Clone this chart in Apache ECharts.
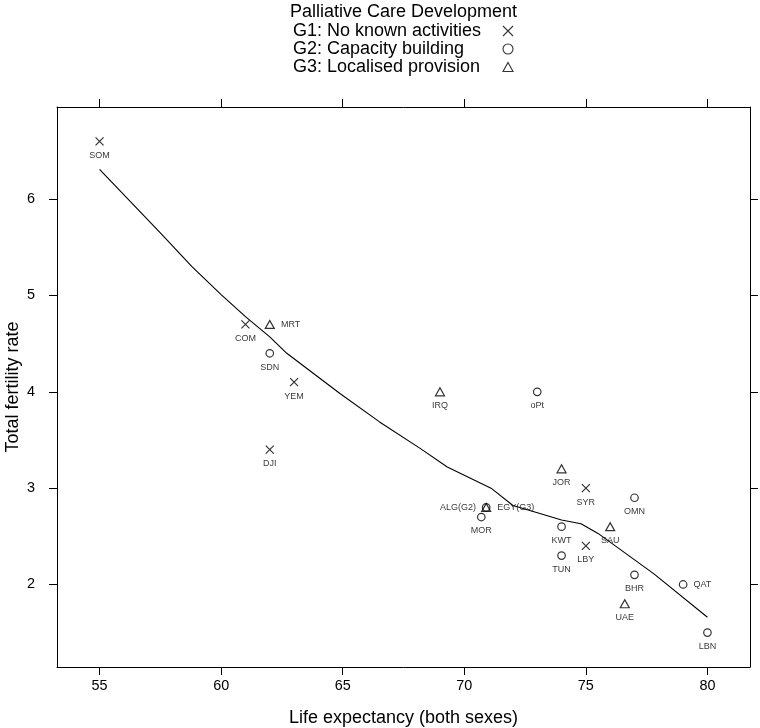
<!DOCTYPE html>
<html>
<head>
<meta charset="utf-8">
<script src="https://cdn.jsdelivr.net/npm/echarts@6/dist/echarts.min.js"></script>
<style>html,body{margin:0;padding:0;background:#fff}#c{width:760px;height:728px}</style>
</head>
<body>
<div id="c"></div>
<script>
// ---- data ----
const xTicks = [55, 60, 65, 70, 75, 80];
const yTicks = [2, 3, 4, 5, 6];

const groupNames = ['G1: No known activities', 'G2: Capacity building', 'G3: Localised provision'];

const g1Names = ['SOM', 'COM', 'YEM', 'DJI', 'SYR', 'LBY'];
const g1Life  = [55, 61, 63, 62, 75, 75];
const g1Tfr   = [6.6, 4.7, 4.1, 3.4, 3.0, 2.4];

const g2Names = ['SDN', 'oPt', 'OMN', 'ALG(G2)', 'MOR', 'KWT', 'TUN', 'BHR', 'QAT', 'LBN'];
const g2Life  = [62, 73, 77, 70.9, 70.7, 74, 74, 77, 79, 80];
const g2Tfr   = [4.4, 4.0, 2.9, 2.8, 2.7, 2.6, 2.3, 2.1, 2.0, 1.5];

const g3Names = ['MRT', 'IRQ', 'JOR', 'EGY(G3)', 'SAU', 'UAE'];
const g3Life  = [62, 69, 74, 70.9, 76, 76.6];
const g3Tfr   = [4.7, 4.0, 3.2, 2.8, 2.6, 1.8];

// smoothed (loess) fit
const fitLife = [55, 57.5, 58.8, 60, 61, 62, 62.7, 64.9, 66.5, 68.2, 69.3, 71.1, 72, 72.8, 74, 74.8, 75.5, 77.8, 80];
const fitTfr  = [6.31, 5.65, 5.30, 5.01, 4.78, 4.57, 4.40, 3.98, 3.69, 3.41, 3.22, 3.00, 2.82, 2.76, 2.67, 2.63, 2.53, 2.11, 1.66];

// ---- chart ----
const FONT = "'Liberation Sans', Arial, Helvetica, sans-serif";
const rightLabels = ['MRT', 'EGY(G3)', 'QAT'];
const leftLabels = ['ALG(G2)'];

const CROSS = 'path://M0,0L10,10M10,0L0,10';
const TRI = 'path://M5,0L10,9L0,9Z';
const CIRC = 'circle';

function build(names, life, tfr) {
  return names.map((n, i) => {
    let pos = 'bottom', dist = 3;
    if (rightLabels.indexOf(n) >= 0) { pos = 'right'; dist = 4; }
    if (leftLabels.indexOf(n) >= 0) { pos = 'left'; dist = 4; }
    return { name: n, value: [life[i], tfr[i]], label: { position: pos, distance: dist } };
  });
}

const markStyle = { color: 'none', borderColor: '#000', borderWidth: 1.2 };
const legendMarkStyle = { color: 'none', borderColor: '#000', borderWidth: 1.1 };
const labelStyle = { show: true, formatter: '{b}', fontFamily: FONT, fontSize: 9, color: '#000' };

function scatter(name, symbol, size, names, life, tfr) {
  return {
    type: 'scatter', name: name, symbol: symbol, symbolSize: size,
    data: build(names, life, tfr),
    itemStyle: markStyle,
    label: labelStyle,
    emphasis: { disabled: true },
    z: 3
  };
}

const axisLine = { show: true, lineStyle: { color: '#000', width: 1 } };
const tickStyle = { lineStyle: { color: '#000', width: 1 } };

const option = {
  animation: false,
  backgroundColor: '#fff',
  title: {
    text: 'Palliative Care Development', left: 290, top: 3, padding: 0,
    textStyle: { fontFamily: FONT, fontSize: 18, fontWeight: 'normal', color: '#000' }
  },
  legend: {
    orient: 'vertical', left: 293, top: 22, padding: 0, align: 'right', itemGap: 0,
    itemWidth: 10, itemHeight: 10, selectedMode: false,
    data: [
      { name: groupNames[0], icon: CROSS, itemStyle: legendMarkStyle },
      { name: groupNames[1], icon: CIRC, itemStyle: legendMarkStyle },
      { name: groupNames[2], icon: TRI, itemStyle: legendMarkStyle }
    ],
    formatter: n => '{a|' + n + '}',
    textStyle: {
      fontFamily: FONT, fontSize: 18, color: '#000', lineHeight: 16.2,
      rich: { a: { width: 205, align: 'left', fontFamily: FONT, fontSize: 18, color: '#000', lineHeight: 16.2 } }
    }
  },
  grid: { left: 57, right: 10, top: 107, bottom: 61, containLabel: false, outerBoundsMode: 'none' },
  xAxis: [
    {
      type: 'value', min: 53.25, max: 81.75, position: 'bottom',
      name: 'Life expectancy (both sexes)', nameLocation: 'middle', nameGap: 42, nameMoveOverlap: false,
      nameTextStyle: { fontFamily: FONT, fontSize: 18, color: '#000' },
      axisLine: axisLine, splitLine: { show: false },
      axisTick: Object.assign({ show: true, length: 8, customValues: xTicks }, tickStyle),
      axisLabel: { customValues: xTicks, margin: 12, fontFamily: FONT, fontSize: 14.4, color: '#000' }
    },
    {
      type: 'value', min: 53.25, max: 81.75, position: 'top',
      axisLine: axisLine, splitLine: { show: false },
      axisTick: Object.assign({ show: true, length: 8, customValues: xTicks }, tickStyle),
      axisLabel: { show: false }
    }
  ],
  yAxis: [
    {
      type: 'value', min: 1.143, max: 6.957, position: 'left',
      name: 'Total fertility rate', nameLocation: 'middle', nameGap: 35, nameMoveOverlap: false,
      nameTextStyle: { fontFamily: FONT, fontSize: 18, color: '#000' },
      axisLine: axisLine, splitLine: { show: false },
      axisTick: Object.assign({ show: true, length: 8, customValues: yTicks }, tickStyle),
      axisLabel: { customValues: yTicks, margin: 22, fontFamily: FONT, fontSize: 14.4, color: '#000' }
    },
    {
      type: 'value', min: 1.143, max: 6.957, position: 'right',
      axisLine: axisLine, splitLine: { show: false },
      axisTick: Object.assign({ show: true, length: 8, customValues: yTicks }, tickStyle),
      axisLabel: { show: false }
    }
  ],
  series: [
    {
      type: 'line', name: 'fit', data: fitLife.map((x, i) => [x, fitTfr[i]]),
      showSymbol: false, symbol: 'none', smooth: false,
      lineStyle: { color: '#000', width: 1.1 }, itemStyle: { color: '#000' },
      emphasis: { disabled: true }, z: 2
    },
    scatter(groupNames[0], CROSS, 8, g1Names, g1Life, g1Tfr),
    scatter(groupNames[1], CIRC, 7.5, g2Names, g2Life, g2Tfr),
    scatter(groupNames[2], TRI, [9, 8], g3Names, g3Life, g3Tfr)
  ]
};

const chart = echarts.init(document.getElementById('c'), null, { renderer: 'canvas' });
chart.setOption(option);
</script>
</body>
</html>
